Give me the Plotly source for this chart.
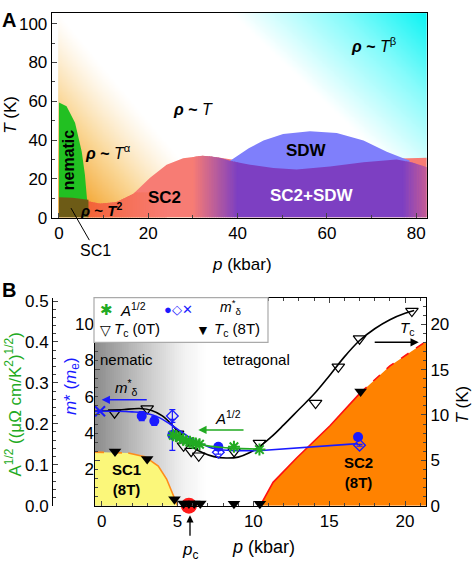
import numpy as np
import plotly.graph_objects as go

W, H = 473, 573
FONT = "Liberation Sans"

# ================= Panel A data (p in kbar, T in K) =================
nem_p = [0, 0, 1.7, 3.6, 5.1, 5.8, 6.3, 6.6]
nem_T = [10, 59.4, 57.4, 49, 34, 22.3, 9, 9]
sc1a_p = [0, 0, 3.0, 6.6, 6.6]
sc1a_T = [0, 10.5, 10.2, 9.2, 0]
sc2a_p = [6.4, 6.4, 9.2, 12.9, 16.6, 20.4, 24.1, 27.8, 32.3, 36.1, 40.5, 50, 60, 70, 77.1, 82.4, 82.4]
sc2a_T = [0, 8.5, 7.2, 8.0, 12.2, 20.6, 27.3, 30.6, 31.9, 30.9, 29.3, 29.0, 29.5, 30.0, 30.6, 30.9, 0]
sdw_p = [37.5, 39.8, 42.5, 45.8, 50.2, 56.2, 62.2, 68.2, 73.4, 77.1, 78.5, 78.5, 37.5]
sdw_T = [28.0, 31.5, 35.8, 39.8, 43.1, 44.5, 43.6, 39.8, 34.0, 30.6, 29.5, 20, 20]
mix_p = [30, 32, 34, 36, 38.3, 42.8, 48, 53.2, 60.7, 68.2, 75.6, 79, 82.4]
mix_T = [31.2, 31.9, 31.6, 30.9, 29.3, 27.3, 25.6, 24.8, 26.4, 28.6, 30.0, 28.5, 26.0]

# ================= Panel B data =================
# T_c (0T), open down-triangles, right axis T (K)
tc0_p = [0.85, 3.0, 5.0, 5.4, 5.9, 6.4, 8.73, 10.4, 14.1, 15.6, 17.0, 20.45]
tc0_T = [10.25, 10.7, 7.9, 6.6, 6.0, 5.5, 5.97, 6.9, 11.3, 15.3, 18.4, 21.45]
# T_c (8T), filled down-triangles
tc8_p = [0.88, 3.0, 4.8, 5.4, 5.75, 6.1, 6.5, 8.72, 10.43, 17.07]
tc8_T = [5.97, 5.14, 0.7, 0.25, 0.25, 0.25, 0.25, 0.2, 0.2, 12.57]
# fit through T_c (0T)
tcfit_p = [-0.44, 0.5, 1.5, 2.5, 3.3, 4.0, 4.7, 5.05, 5.5, 6.15, 6.7, 7.4, 8.2, 9.0, 9.7, 10.4, 11.2,
           12.0, 13.0, 14.0, 15.0, 16.0, 17.0, 18.0, 19.0, 20.0, 20.6]
tcfit_T = [10.4, 10.45, 10.6, 10.7, 10.5, 9.9, 8.8, 8.1, 7.4, 6.3, 5.8, 5.4, 5.25, 5.35, 5.8, 6.5, 7.6,
           8.9, 10.6, 12.3, 14.3, 16.4, 18.2, 19.5, 20.5, 21.2, 21.5]
# m*_delta (left axis, m_e)
mc_p = [2.64, 3.47, 4.66, 7.69, 16.9]
mc_m = [4.94, 4.67, 3.9, 3.25, 3.78]
mc_e = [0.25, 0.25, 0.85, 0.1, 0.1]
md_p = [4.66, 7.69, 17.0]
md_m = [4.94, 2.94, 3.33]
md_e = [0.35, 0.1, 0.05]
mx_p = [-0.11]
mx_m = [5.2]
mfit_p = [-0.44, 1.0, 2.0, 3.0, 3.8, 4.5, 5.2, 5.9, 6.6, 7.4, 8.3, 9.3, 10.3]
mfit_m = [5.2, 5.2, 5.17, 5.08, 4.85, 4.5, 4.1, 3.7, 3.4, 3.15, 3.05, 3.03, 3.03]
mline_p = [10.3, 16.9]
mline_m = [3.03, 3.42]
# A^1/2 (far-left axis)
a_p = [4.72, 4.9, 5.16, 5.38, 5.6, 5.82, 6.0, 6.2, 6.45, 8.72, 10.4]
a_v = [0.172, 0.170, 0.166, 0.161, 0.158, 0.156, 0.153, 0.152, 0.150, 0.144, 0.137]
afit_p = [4.7, 5.2, 5.7, 6.2, 7.0, 8.0, 9.0, 10.4]
afit_v = [0.172, 0.165, 0.158, 0.152, 0.146, 0.142, 0.140, 0.138]
# SC1 (8T) and SC2 (8T) boundaries (T)
sc1b_p = [-0.44, 1.75, 2.85, 3.73, 4.28, 4.72, 4.94, 5.0]
sc1b_T = [5.9, 5.8, 5.4, 4.36, 2.93, 1.15, 0.25, 0.0]
sc2b_p = [10.45, 11.3, 12.85, 15.05, 17.03, 19.0, 21.38]
sc2b_T = [0.0, 2.57, 5.25, 8.8, 12.4, 15.4, 18.1]
pc_p = [5.75]
pc_T = [0.0]

# ================= geometry =================
XA = [-1.63, 82.35]; YA = [0, 105.5]
A_l, A_r, A_t, A_b = 51.7, 426.7, 7.3, 217.7
XB = [-0.44, 21.38]; TB = [0, 22.93]; MB = [0, 11.465]; AB = [0, 0.5083]
B_l, B_r, B_t, B_b = 95, 426, 300, 514

fig = go.Figure()

# ---- Panel A background gradient (styling) ----
gx = np.linspace(0, XA[1], 220)
gy = np.linspace(0, YA[1], 140)
GX, GY = np.meshgrid(gx, gy)
sxA = (A_r - A_l) / (XA[1] - XA[0]); syA = (A_b - A_t) / (YA[1] - YA[0])
PX = A_l + (GX - XA[0]) * sxA
PY = A_b - (GY - YA[0]) * syA
dy_ = (-(PX - 59) * 0.776 + (PY - 8.3) * 0.631) / 100.0
dc_ = ((PX - 232) * 0.70 - (PY - 8) * 0.715) / 135.0
zbg = np.clip(dc_, 0, 1) - np.clip(dy_, 0, 1) ** 1.25
fig.add_trace(go.Heatmap(x=gx, y=gy, z=zbg, zmin=-1, zmax=1, zsmooth="best", showscale=False,
                         hoverinfo="skip", xaxis="x", yaxis="y",
                         colorscale=[[0, "#f4ab3c"], [0.25, "#fad796"], [0.5, "#ffffff"],
                                     [0.78, "#86fbfb"], [1, "#0ef3f3"]]))


def poly(px, py, color, xa="x", ya="y"):
    fig.add_trace(go.Scatter(x=px, y=py, fill="toself", fillcolor=color, mode="lines",
                             line=dict(width=0, color=color),
                             hoverinfo="skip", showlegend=False, xaxis=xa, yaxis=ya))


def mixc(c1, c2, f):
    f = min(max(f, 0), 1)
    return "rgb(%d,%d,%d)" % tuple(int(round(a + (b - a) * f)) for a, b in zip(c1, c2))


SALMON = (247, 124, 116); PURPLE = (125, 63, 194); PINK = (196, 92, 150); ORR = (243, 98, 52)

poly(sc2a_p, sc2a_T, mixc(SALMON, SALMON, 0))
# orange-red low-T fade (rho ~ T^2 region), opaque strips with small overlap
xs = np.linspace(6.4, 24, 36)
step = xs[1] - xs[0]
for a, b in zip(xs[:-1], xs[1:]):
    b2 = b + 0.35 * step
    ta = min(np.interp(a, sc2a_p[1:-1], sc2a_T[1:-1]), 13)
    tb = min(np.interp(b2, sc2a_p[1:-1], sc2a_T[1:-1]), 13)
    f = (a - 6.4) / (24 - 6.4)
    poly([a, a, b2, b2], [0, ta, tb, 0], mixc(ORR, SALMON, f ** 0.8))
poly(sdw_p, sdw_T, "#7f7ffb")
# SC2+SDW with gradient edges
xs = np.linspace(30, 40, 26)
step = xs[1] - xs[0]
for a, b in zip(xs[:-1], xs[1:]):
    b2 = b + 0.35 * step
    f = ((a + b) / 2 - 30) / 10
    poly([a, a, b2, b2], [0, np.interp(a, mix_p, mix_T), np.interp(b2, mix_p, mix_T), 0], mixc(SALMON, PURPLE, f))
xm = [p for p in mix_p if 40 < p < 77]
poly([39.9, 39.9] + xm + [77.1, 77.1],
     [0, np.interp(39.9, mix_p, mix_T)] + [np.interp(p, mix_p, mix_T) for p in xm]
     + [np.interp(77.1, mix_p, mix_T), 0], mixc(PURPLE, PURPLE, 0))
xs = np.linspace(77, 82.4, 16)
step = xs[1] - xs[0]
for a, b in zip(xs[:-1], xs[1:]):
    b2 = min(b + 0.35 * step, 82.4)
    f = ((a + b) / 2 - 77) / 5.4
    poly([a, a, b2, b2], [0, np.interp(a, mix_p, mix_T), np.interp(b2, mix_p, mix_T), 0], mixc(PURPLE, PINK, f))
poly(nem_p, nem_T, "#22c022")
poly(sc1a_p, sc1a_T, "#6d5b16")

# ---- Panel B ----
# grey nematic background
gbx = np.linspace(XB[0], 7.0, 60)
fig.add_trace(go.Heatmap(x=gbx, y=[0, 18], z=[[v for v in gbx[:-1]]], zsmooth=False, showscale=False,
                         hoverinfo="skip", xaxis="x2", yaxis="y2",
                         colorscale=[[0, "#8d8d8d"], [0.45, "#c8c8c8"], [0.8, "#f2f2f2"], [1, "#ffffff"]]))
poly(sc1b_p + [-0.44], sc1b_T + [0], "#fbf77a", "x2", "y2")
poly(sc2b_p + [21.38], sc2b_T + [0], "#ff8200", "x2", "y2")


def line(px, py, color, ya, dash="solid", shape="linear", width=1.6):
    fig.add_trace(go.Scatter(x=px, y=py, mode="lines", line=dict(color=color, width=width, dash=dash, shape=shape),
                             xaxis="x2", yaxis=ya, showlegend=False, hoverinfo="skip"))


line(sc1b_p[:2], sc1b_T[:2], "#ff8c1a", "y2", dash="dash")
line(sc1b_p[1:], sc1b_T[1:], "#ff8c1a", "y2")
line(sc2b_p[:5], sc2b_T[:5], "#ff1010", "y2")
line(sc2b_p[4:], sc2b_T[4:], "#ff1010", "y2", dash="dash")
fig.add_trace(go.Scatter(x=pc_p, y=pc_T, mode="markers", marker=dict(color="#ff1a1a", size=16),
                         cliponaxis=False, xaxis="x2", yaxis="y2", showlegend=False, hoverinfo="skip"))
line(tcfit_p, tcfit_T, "black", "y2", shape="spline")
fig.add_trace(go.Scatter(x=tc0_p, y=tc0_T, mode="markers",
                         marker=dict(symbol="triangle-down-open", size=11, color="black", line=dict(width=1.2)),
                         xaxis="x2", yaxis="y2", showlegend=False, cliponaxis=False))
fig.add_trace(go.Scatter(x=tc8_p, y=tc8_T, mode="markers",
                         marker=dict(symbol="triangle-down", size=11, color="black"),
                         xaxis="x2", yaxis="y2", showlegend=False, cliponaxis=False))
BLUE = "#1a1aff"
line(mfit_p, mfit_m, BLUE, "y3", shape="spline")
line(mline_p, mline_m, BLUE, "y3")
fig.add_trace(go.Scatter(x=mc_p, y=mc_m, mode="markers", marker=dict(symbol="circle", size=10, color=BLUE),
                         error_y=dict(array=mc_e, color=BLUE, thickness=1.2, width=3),
                         xaxis="x2", yaxis="y3", showlegend=False))
fig.add_trace(go.Scatter(x=md_p, y=md_m, mode="markers",
                         marker=dict(symbol="diamond-open", size=9, color=BLUE, line=dict(width=1.3)),
                         error_y=dict(array=md_e, color=BLUE, thickness=1.2, width=3),
                         xaxis="x2", yaxis="y3", showlegend=False))
fig.add_trace(go.Scatter(x=mx_p, y=mx_m, mode="markers",
                         marker=dict(symbol="x-thin-open", size=10, color=BLUE, line=dict(width=2, color=BLUE)),
                         xaxis="x2", yaxis="y3", showlegend=False, cliponaxis=False))
GREEN = "#22aa22"
line(afit_p, afit_v, GREEN, "y4", shape="spline")
fig.add_trace(go.Scatter(x=a_p, y=a_v, mode="markers",
                         marker=dict(symbol="asterisk-open", size=10, color=GREEN, line=dict(width=2, color=GREEN)),
                         xaxis="x2", yaxis="y4", showlegend=False))

# ================= annotations =================
ann = []


def txt(x, y, t, size=16, color="black", xref="x", yref="y", angle=0, xanchor="center", **kw):
    d = dict(x=x, y=y, text=t, xref=xref, yref=yref, showarrow=False, textangle=angle,
             xanchor=xanchor, yanchor="middle",
             font=dict(size=size, color=color, family=FONT))
    d.update(kw)
    ann.append(d)


def ptxt(px, py, t, **kw):
    txt(px / W, 1 - py / H, t, xref="paper", yref="paper", **kw)


# panel A texts
txt(70.4, 89, "<b><i>ρ</i> ~</b> <i>T</i><sup>β</sup>")
txt(30.1, 55.7, "<b><i>ρ</i> ~</b> <i>T</i>")
txt(10.9, 34, "<b><i>ρ</i> ~</b> <i>T</i><sup>α</sup>")
txt(2.2, 30, "<b>nematic</b>", size=16, angle=-90)
txt(9.4, 4.0, "<b><i>ρ</i> ~ <i>T</i><sup>2</sup></b>", size=15)
txt(23.7, 10.5, "<b>SC2</b>", size=17)
txt(55.5, 34.8, "<b>SDW</b>", size=17)
txt(56.6, 11.4, "<b>SC2+SDW</b>", size=17, color="white")
ann.append(dict(x=2.7, y=4.9, xref="x", yref="y", ax=24, ay=42, text="SC1", showarrow=True, arrowhead=0,
                arrowwidth=1, arrowcolor="black", xanchor="center", yanchor="middle",
                font=dict(size=16, family=FONT, color="black")))
ptxt(11, 112, "<i>T</i> (K)", size=17, angle=-90)
ptxt(242, 266, "<i>p</i> (kbar)", size=17)
ptxt(9, 14, "<b>A</b>", size=20)
ptxt(9, 292, "<b>B</b>", size=20)

# panel B texts
txt(1.64, 8.06, "nematic", size=15, xref="x2", yref="y3")
txt(10.2, 8.06, "tetragonal", size=15, xref="x2", yref="y3")
txt(1.64, 6.5, "<i>m</i><sup>*</sup><sub>δ</sub>", size=15, xref="x2", yref="y3")
txt(8.3, 4.85, "<i>A</i><sup>1/2</sup>", size=15, xref="x2", yref="y3")
txt(20.1, 19.5, "<i>T</i><sub>c</sub>", size=15, xref="x2", yref="y2")
txt(1.65, 2.84, "<b>SC1<br>(8T)</b>", size=15, xref="x2", yref="y2")
txt(16.92, 3.65, "<b>SC2<br>(8T)</b>", size=15, xref="x2", yref="y2")
for (x0, x1, y, ya, col) in [(3.07, 0.0, 5.83, "y3", BLUE), (9.45, 6.37, 4.17, "y3", GREEN),
                             (17.9, 20.9, 18.0, "y2", "black")]:
    ann.append(dict(x=x1, y=y, ax=x0, ay=y, xref="x2", yref=ya, axref="x2", ayref=ya, text="",
                    showarrow=True, arrowhead=2, arrowsize=1.1, arrowwidth=1.5, arrowcolor=col))
ann.append(dict(x=190 / W, y=1 - 524 / H, xref="paper", yref="paper", ax=0, ay=22, text="",
                showarrow=True, arrowhead=2, arrowsize=1.1, arrowwidth=1.3, arrowcolor="black"))
ptxt(190, 561, "<i>p</i><sub>c</sub>", size=17)
ptxt(263, 557, "<i>p</i> (kbar)", size=18)
ptxt(463, 410, "<i>T</i> (K)", size=17, angle=-90)
ptxt(72, 391, "<i>m</i>* (<i>m</i><sub>e</sub>)", size=17, angle=-90, color=BLUE)
ptxt(13, 410, "A<sup>1/2</sup> ((μΩ cm/K<sup>2</sup>)<sup>1/2</sup>)", size=17, angle=-90, color=GREEN)

# legend (manual)
ptxt(106, 312, "✱", size=15, color=GREEN)
ptxt(118, 312, "<i>A</i><sup>1/2</sup>", size=15, xanchor="left")
ptxt(195, 312, "<span style='color:%s'>●◇✕</span>" % BLUE, size=13, xanchor="right")
ptxt(218, 310, "<i>m</i><sup>*</sup><sub>δ</sub>", size=14, xanchor="left")
ptxt(105, 333, "▽", size=14)
ptxt(112, 333, "<i>T</i><sub>c</sub> (0T)", size=15, xanchor="left")
ptxt(203, 333, "▼", size=14)
ptxt(212, 333, "<i>T</i><sub>c</sub> (8T)", size=15, xanchor="left")

shapes = [dict(type="rect", xref="paper", yref="paper", x0=94 / W, x1=268 / W, y0=1 - 346 / H, y1=1 - 300 / H,
               line=dict(color="#aaaaaa", width=1.2), fillcolor="white", layer="above")]

tickf = dict(size=17, family=FONT, color="black")
fig.update_layout(
    width=W, height=H, autosize=False, margin=dict(l=0, r=0, t=0, b=0),
    paper_bgcolor="white", plot_bgcolor="rgba(0,0,0,0)",
    font=dict(family=FONT, color="black"),
    showlegend=False, annotations=ann, shapes=shapes,
    xaxis=dict(domain=[A_l / W, A_r / W], range=XA, anchor="y", showgrid=False, zeroline=False,
               showline=True, linecolor="black", mirror=True, ticks="inside", ticklen=5,
               tickvals=[0, 20, 40, 60, 80], tickfont=tickf,
               minor=dict(ticks="inside", ticklen=3, tickvals=[10, 30, 50, 70])),
    yaxis=dict(domain=[1 - A_b / H, 1 - A_t / H], range=YA, anchor="x", showgrid=False, zeroline=False,
               showline=True, linecolor="black", mirror=True, ticks="inside", ticklen=5,
               tickvals=[0, 20, 40, 60, 80, 100], tickfont=tickf,
               minor=dict(ticks="inside", ticklen=3, tickvals=[10, 30, 50, 70, 90])),
    xaxis2=dict(domain=[B_l / W, B_r / W], range=XB, anchor="y2", showgrid=False, zeroline=False,
                showline=True, linecolor="black", mirror="ticks", ticks="inside", ticklen=5,
                tickvals=[0, 5, 10, 15, 20], tickfont=tickf,
                minor=dict(ticks="inside", ticklen=3, dtick=1)),
    yaxis2=dict(domain=[1 - B_b / H, 1 - B_t / H], range=TB, anchor="x2", side="right", showgrid=False,
                zeroline=False, showline=True, linecolor="black", mirror="ticks", ticks="inside", ticklen=5,
                tickvals=[0, 5, 10, 15, 20], tickfont=tickf,
                minor=dict(ticks="inside", ticklen=3, dtick=1)),
    yaxis3=dict(overlaying="y2", range=MB, anchor="x2", side="left", showgrid=False, zeroline=False,
                showline=False, ticks="", tickvals=[2, 4, 6, 8, 10], tickfont=tickf),
    yaxis4=dict(overlaying="y2", range=AB, anchor="free", position=52 / W, side="left", showgrid=False,
                zeroline=False, showline=True, linecolor="black", ticks="inside", ticklen=5,
                tickvals=[0, 0.1, 0.2, 0.3, 0.4, 0.5], tickformat=".1f", tickfont=tickf,
                minor=dict(ticks="inside", ticklen=3, dtick=0.02)),
)

fig.write_html("out.html")
